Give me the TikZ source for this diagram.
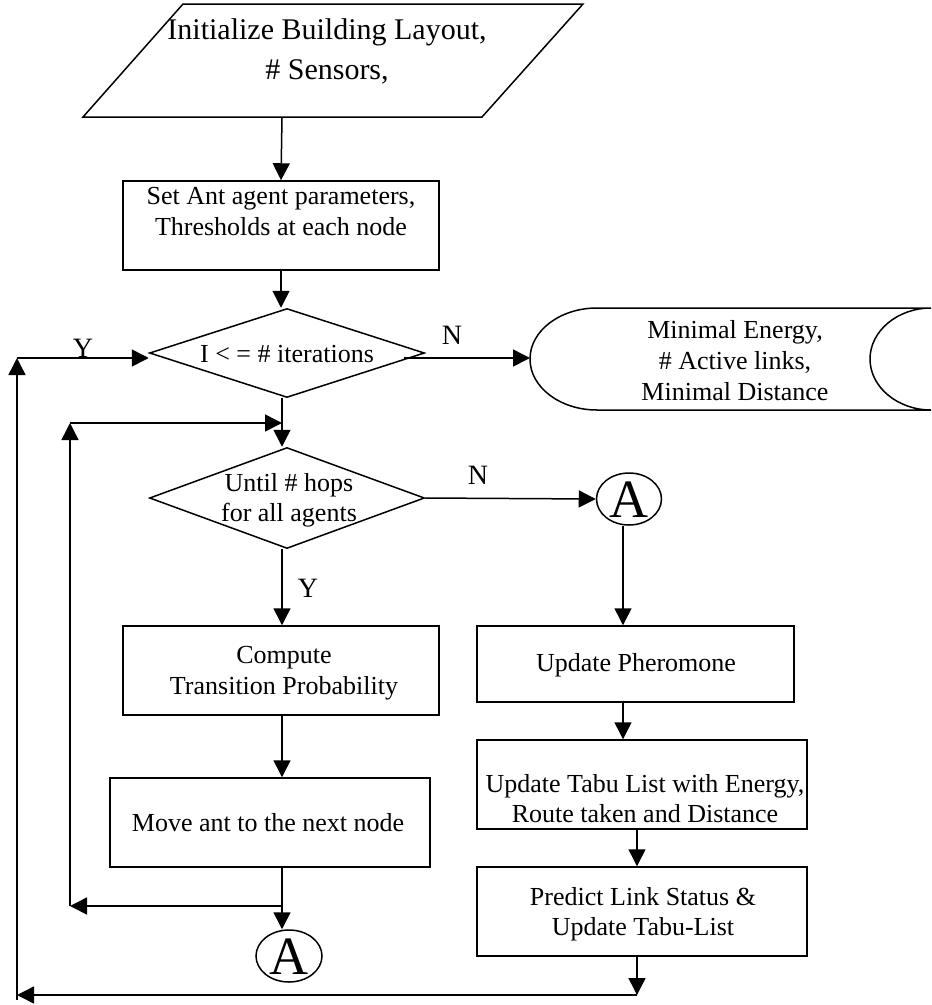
\documentclass[tikz,border=0pt]{standalone}
\usepackage{fontspec}
\setmainfont{Liberation Serif}
\usetikzlibrary{arrows.meta,shapes.geometric}
\begin{document}
\begin{tikzpicture}[x=1pt,y=-1pt,
  line width=1.5pt,
  arr/.style={-{Triangle[length=17pt,width=17pt]}},
  boxshape/.style={draw,rectangle,inner sep=0pt},
  dshape/.style={draw,diamond,inner sep=0pt},
  cshape/.style={draw,ellipse,inner sep=0pt},
  txt/.style={align=center,inner sep=0pt,font=\fontsize{26}{31}\selectfont},
  lbl/.style={inner sep=0pt,font=\fontsize{28}{28}\selectfont},
  bigA/.style={inner sep=0pt,font=\fontsize{54}{54}\selectfont},
]
\useasboundingbox (0,0) rectangle (932,1005);

% input parallelogram
\draw (183,4) -- (583,4) -- (482,117) -- (83,117) -- cycle;
\coordinate (pin) at (282,117);
\node[txt,font=\fontsize{30}{40}\selectfont] (tt) at (327,51) {Initialize Building Layout,\\ \# Sensors,};

% boxes
\node[boxshape,minimum width=316pt,minimum height=89pt] (box1) at (281,225.5) {};
\node[txt] (box1t) at (281,212) {Set Ant agent parameters,\\ Thresholds at each node};

\node[dshape,minimum width=275pt,minimum height=89pt] (dia1) at (287,353) {};
\node[txt] (dia1t) at (287,354) {I {<} = \# iterations};

% output (stored data) shape
\draw (597,308) -- (931,308)
  .. controls (897.8,308) and (870,330.8) .. (870,359)
  .. controls (870,387.2) and (897.8,410) .. (931,410)
  -- (597,410)
  .. controls (560,410) and (530,387.2) .. (530,359)
  .. controls (530,330.8) and (560,308) .. (597,308) -- cycle;
\coordinate (outw) at (530,358);
\node[txt] (outt) at (735,361) {Minimal Energy,\\ \# Active links,\\ Minimal Distance};

\node[dshape,minimum width=275pt,minimum height=101pt] (dia2) at (287,498) {};
\node[txt,font=\fontsize{26}{30}\selectfont] (dia2t) at (289,500) {Until \# hops\\ for all agents};

\node[cshape,minimum width=65pt,minimum height=52pt] (cA1) at (629,499) {};
\node[bigA] (cA1t) at (629,500) {A};

\node[boxshape,minimum width=316pt,minimum height=89pt] (comp) at (281,670.5) {};
\node[txt] (compt) at (284,673) {Compute\\ Transition Probability};

\node[boxshape,minimum width=320pt,minimum height=89pt] (move) at (270,822.5) {};
\node[txt] (movet) at (268,823) {Move ant to the next node};

\node[cshape,minimum width=66pt,minimum height=52pt] (cA2) at (289,956) {};
\node[bigA] (cA2t) at (289,957) {A};

\node[boxshape,minimum width=317pt,minimum height=76pt] (pher) at (635.5,664) {};
\node[txt] (phert) at (636,665) {Update Pheromone};

\node[boxshape,minimum width=330pt,minimum height=89pt] (tabu) at (642,784.5) {};
\node[txt,font=\fontsize{26}{30}\selectfont] (tabut) at (645,799) {Update Tabu List with Energy,\\ Route taken and Distance};

\node[boxshape,minimum width=330pt,minimum height=89pt] (pred) at (642,911.5) {};
\node[txt,font=\fontsize{26}{30}\selectfont] (predt) at (643,914) {Predict Link Status \&\\ Update Tabu-List};

% labels
\node[lbl] (y1) at (83,348) {Y};
\node[lbl] (n1) at (452,335) {N};
\node[lbl] (n2) at (478,475) {N};
\node[lbl] (y2) at (308,588) {Y};

% helper coordinates
\coordinate (d1r) at (404,358);
\coordinate (yc) at (17,358);
\coordinate (j1) at (282,423);
\coordinate (j2) at (282,906);
\coordinate (l1) at (70,906);
\coordinate (l2) at (70,423);
\coordinate (rc1) at (623,0);
\coordinate (rc2) at (637,0);
\coordinate (b1) at (637,995);
\coordinate (b2) at (17,995);
\coordinate (b3) at (17,1000);

% connectors
\draw[arr] (pin) -- (box1.north);
\draw[arr] (box1.south) -- (box1.south |- dia1.north);
\draw[arr] (d1r) -- (outw);
\draw (j1 |- dia1.south) -- (j1);
\draw[arr] (j1) -- (j1 |- dia2.north);
\draw[arr] (j1 |- dia2.south) -- (j1 |- comp.north);
\draw[arr] (j1 |- comp.south) -- (j1 |- move.north);
\draw (j2 |- move.south) -- (j2);
\draw[arr] (j2) -- (j2 |- cA2.north);
\draw[arr] (j2) -- (l1);
\draw[arr] (l1) -- (l2);
\draw[arr] (l2) -- (j1);
\draw[arr] (dia2.east) -- (cA1.west);
\draw[arr] (rc1 |- cA1.south) -- (rc1 |- pher.north);
\draw[arr] (rc1 |- pher.south) -- (rc1 |- tabu.north);
\draw[arr] (rc2 |- tabu.south) -- (rc2 |- pred.north);
\draw[arr] (rc2 |- pred.south) -- (b1);
\draw[arr] (b1) -- (b2);
\draw (b2) -- (b3);
\draw[arr] (b2) -- (yc);
\draw[arr] (yc) -- (yc -| dia1.west);
\end{tikzpicture}
\end{document}
